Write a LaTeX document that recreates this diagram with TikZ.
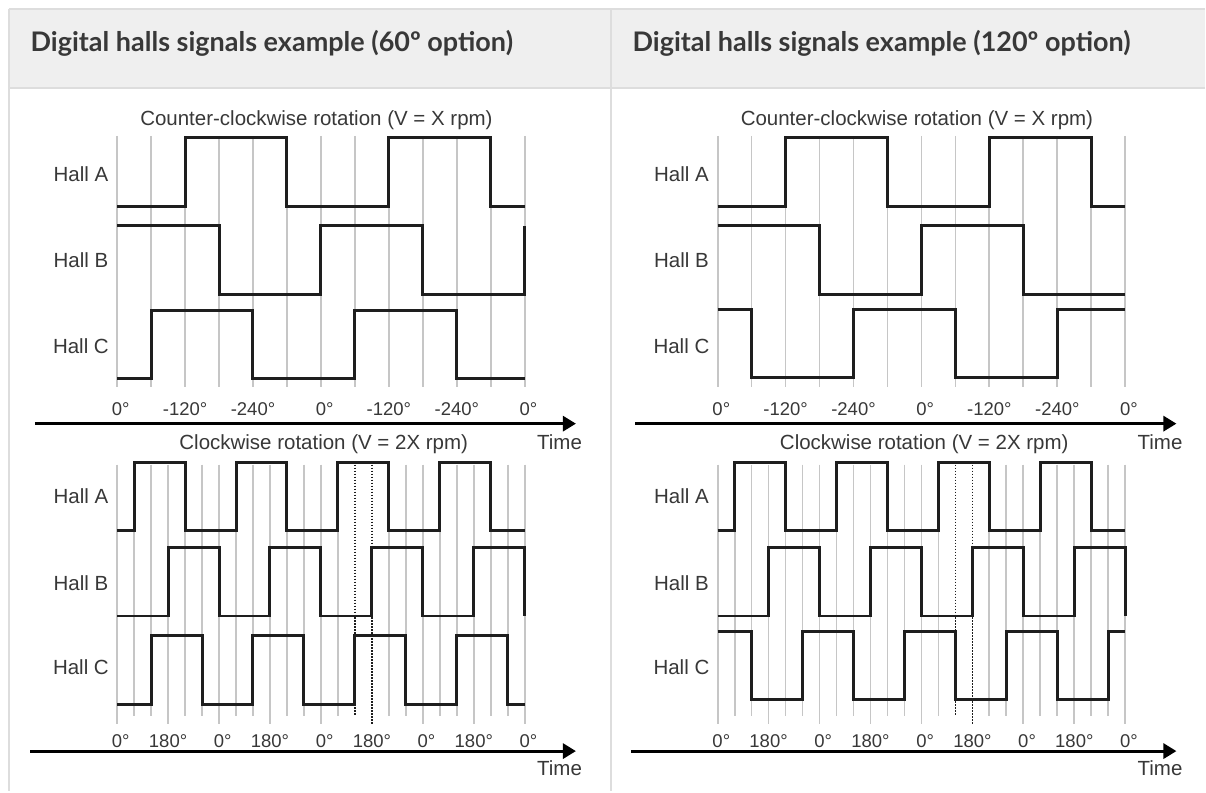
\documentclass[tikz,border=0pt]{standalone}
\usepackage{fontspec}
\setmainfont{Liberation Sans}
\newfontfamily\headfont{Lato}
\usetikzlibrary{arrows.meta}
\definecolor{hdrbg}{HTML}{EFEFEF}
\definecolor{rulec}{HTML}{DDDDDD}
\definecolor{txt}{HTML}{383838}
\definecolor{sig}{HTML}{1E1E1E}
\definecolor{grd}{HTML}{C6C6C6}

\begin{document}
\begin{tikzpicture}[x=1pt,y=-1pt,
  head/.style={anchor=base west,inner sep=0pt,text=txt,font=\headfont\bfseries\fontsize{27}{30}\selectfont},
  lbl/.style={inner sep=0pt,text=txt,font=\fontsize{20.5}{22}\selectfont},
  ttl/.style={anchor=base,inner sep=0pt,text=txt,font=\fontsize{20.5}{22}\selectfont},
  tick/.style={anchor=base,inner sep=0pt,text=txt,font=\fontsize{18.5}{20}\selectfont},
  signal/.style={draw=sig,line width=3pt},
  gridln/.style={draw=grd,line width=1.8pt},
  dotln/.style={draw=sig,line width=1.5pt,dash pattern=on 1.5pt off 1.5pt},
  axis/.style={draw=black,line width=3pt,-{Triangle[length=13pt,width=15pt]}}]
% page and table header
\fill[white] (0,0) rectangle (1206,792);
\fill[hdrbg] (9,9) rectangle (1206,88);
\draw[rulec,line width=2pt] (9,9) -- (1206,9) (9,88) -- (1206,88)
  (9,9) -- (9,792) (611.7,9) -- (611.7,792);
\node[head] (h60) at (30.5,52) {Digital halls signals example (60º option)};
\node[head] (h120) at (633,52) {Digital halls signals example (120º option)};

% what both columns share
\foreach \dx/\c in {0/L,601/R}{
  \begin{scope}[xshift=\dx pt]
    \node[ttl] (ccw\c) at (316.7,126) {Counter-clockwise rotation (V = X rpm)};
    \node[ttl] (cw\c) at (324,449.5) {Clockwise rotation (V = 2X rpm)};
    \node[lbl] (haU\c) at (81,174) {Hall A};
    \node[lbl] (hbU\c) at (81,260) {Hall B};
    \node[lbl] (hcU\c) at (81,346) {Hall C};
    \node[lbl] (haD\c) at (81,496.7) {Hall A};
    \node[lbl] (hbD\c) at (81,583.3) {Hall B};
    \node[lbl] (hcD\c) at (81,667.5) {Hall C};
    \node[ttl] (tmU\c) at (560,449.5) {Time};
    \node[ttl] (tmD\c) at (560,776.5) {Time};
    \coordinate (axUs\c) at (34.8,424);
    \coordinate (axUe\c) at (576.4,424);
    \coordinate (axDs\c) at (30.4,751.7);
    \coordinate (axDe\c) at (576.4,751.7);
    \draw[axis] (axUs\c) -- (axUe\c);
    \draw[axis] (axDs\c) -- (axDe\c);
  \end{scope}
  % 60 deg grid, slow
  \begin{scope}[xshift={\dx pt+117.2pt},x=34pt]
    \foreach \i in {0,...,12} \draw[gridln] (\i,136) -- (\i,387);
    \foreach \i/\t in {0/{0\rlap{°}},2/-120°,4/-240°,6/{0\rlap{°}},8/-120°,10/-240°,12/{0\rlap{°}}}
      \node[tick] (kU\c\i) at (\i,416) {\t};
  \end{scope}
  % 30 deg grid, fast
  \begin{scope}[xshift={\dx pt+117.2pt},x=17pt]
    \foreach \i in {0,3,6,9,12,18,21,24} \draw[gridln] (\i,465) -- (\i,725);
    \foreach \i in {1,2,4,5,7,8,10,11,13,16,17,19,20,22,23} \draw[gridln] (\i,465) -- (\i,716.7);
    \draw[dotln] (14,465) -- (14,716.7);
    \draw[dotln] (15,465) -- (15,725);
    \foreach \i/\t in {0/{0\rlap{°}},3/180°,6/{0\rlap{°}},9/180°,12/{0\rlap{°}},15/180°,18/{0\rlap{°}},21/180°,24/{0\rlap{°}}}
      \node[tick] (kD\c\i) at (\i,748) {\t};
  \end{scope}
}

% 60 deg option
\begin{scope}[xshift=117.2pt,x=34pt]
  \draw[signal] (0,207) -| (2,138) -| (5,207) -| (8,138) -| (11,207) -- (12,207);
  \draw[signal] (0,226) -| (3,295) -| (6,226) -| (9,295) -| (12,226);
  \draw[signal] (0,379) -| (1,311) -| (4,379) -| (7,311) -| (10,379) -- (12,379);
\end{scope}
\begin{scope}[xshift=117.2pt,x=17pt]
  \draw[signal] (0,531) -| (1,463) -| (4,531) -| (7,463) -| (10,531) -| (13,463) -| (16,531) -| (19,463) -| (22,531) -- (24,531);
  \draw[signal] (0,616.5) -| (3,548) -| (6,616.5) -| (9,548) -| (12,616.5) -| (15,548) -| (18,616.5) -| (21,548) -| (24,616.5);
  \draw[signal] (0,705) -| (2,636) -| (5,705) -| (8,636) -| (11,705) -| (14,636) -| (17,705) -| (20,636) -| (23,705) -- (24,705);
\end{scope}

% 120 deg option
\begin{scope}[xshift=718.2pt,x=34pt]
  \draw[signal] (0,207) -| (2,138) -| (5,207) -| (8,138) -| (11,207) -- (12,207);
  \draw[signal] (0,226) -| (3,295) -| (6,226) -| (9,295) -- (12,295);
  \draw[signal] (0,310) -| (1,378) -| (4,310) -| (7,378) -| (10,310) -- (12,310);
\end{scope}
\begin{scope}[xshift=718.2pt,x=17pt]
  \draw[signal] (0,531) -| (1,463) -| (4,531) -| (7,463) -| (10,531) -| (13,463) -| (16,531) -| (19,463) -| (22,531) -- (24,531);
  \draw[signal] (0,616.5) -| (3,548) -| (6,616.5) -| (9,548) -| (12,616.5) -| (15,548) -| (18,616.5) -| (21,548) -| (24,616.5);
  \draw[signal] (0,631.7) -| (2,700) -| (5,631.7) -| (8,700) -| (11,631.7) -| (14,700) -| (17,631.7) -| (20,700) -| (23,631.7) -- (24,631.7);
\end{scope}
\end{tikzpicture}
\end{document}
